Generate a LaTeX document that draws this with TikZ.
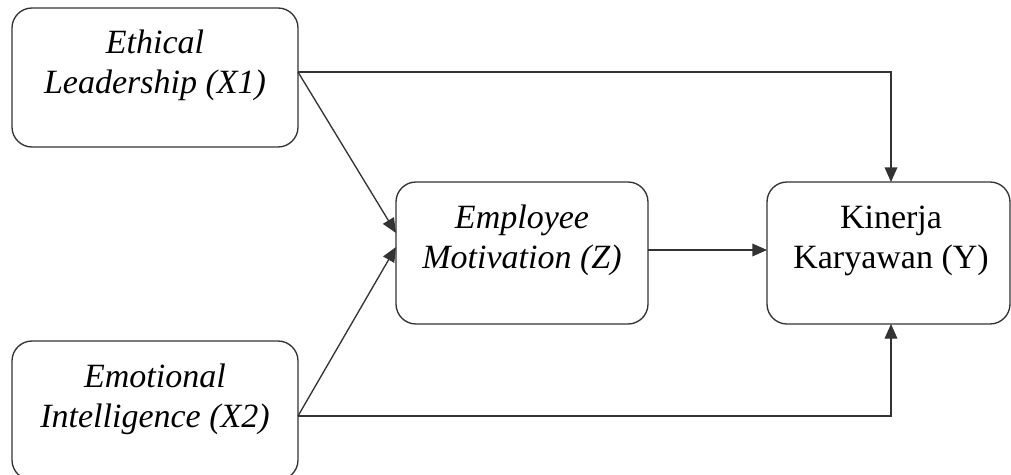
\documentclass[tikz,border=0pt]{standalone}
\usepackage{fontspec}
\setmainfont{Liberation Serif}
\usetikzlibrary{arrows.meta,calc}
\definecolor{edge}{HTML}{333333}
\tikzset{
  box/.style={draw=edge, line width=1pt, rounded corners=15pt, inner sep=0pt, outer sep=0pt, minimum height=#1},
  box/.default=104.25pt,
  lbl/.style={align=center, inner sep=0pt, font=\fontsize{25.5}{30}\selectfont},
  arr/.style={draw=edge, line width=1pt, -{Triangle[length=11pt,width=9.5pt]}}
}
\begin{document}
\begin{tikzpicture}[x=0.75pt,y=-0.75pt]
\useasboundingbox (0,0) rectangle (1011,475);
\begin{scope}
\clip (0,0) rectangle (1011,475);
\node[box, minimum width=214.5pt] (x1) at (155,77.5) {};
\node[box, minimum width=214.5pt] (x2) at (155,410.5) {};
\node[box=106.5pt, minimum width=189pt] (z) at (522,253) {};
\node[box=106.5pt, minimum width=182.25pt] (y) at (888.5,253) {};
\end{scope}
\node[lbl] (tx1) at (155,65) {\strut\itshape Ethical\\\strut\itshape Leadership (X1)};
\node[lbl] (tx2) at (155,399) {\strut\itshape Emotional\\\strut\itshape Intelligence (X2)};
\node[lbl] (tz) at (522,240) {\strut\itshape Employee\\\strut\itshape Motivation (Z)};
\node[lbl] (ty) at (891,240) {\strut Kinerja\\\strut Karyawan (Y)};
\draw[arr] ($(x1.east)+(0,-5.5)$) -| ($(y.north)+(2.5,0)$);
\draw[arr] ($(x2.east)+(0,5.5)$) -| ($(y.south)+(2.5,0)$);
\draw[arr] ($(x1.east)+(0,-5.5)$) -- ($(z.west)+(0,-20)$);
\draw[arr] ($(x2.east)+(0,5.5)$) -- ($(z.west)+(0,-6)$);
\draw[arr] ($(z.east)+(0,-3)$) -- ($(y.west)+(0,-3)$);
\end{tikzpicture}
\end{document}
